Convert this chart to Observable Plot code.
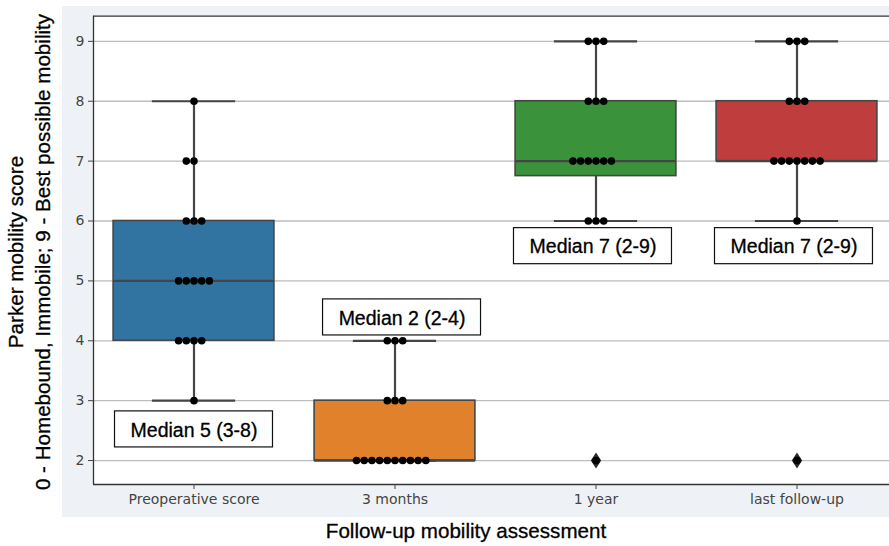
<!DOCTYPE html>
<html>
<head>
<meta charset="utf-8">
<script src="https://cdn.jsdelivr.net/npm/d3@7"></script>
<script src="https://cdn.jsdelivr.net/npm/@observablehq/plot@0.6"></script>
<style>
  html, body { margin: 0; padding: 0; background: white; overflow: hidden; }
  svg { overflow: hidden; }
</style>
</head>
<body>
<div id="chart"></div>
<script>
// ---- data ----
const categories = ["Preoperative score", "3 months", "1 year", "last follow-up"];
const preoperative = [8, 7, 7, 6, 6, 6, 5, 5, 5, 5, 5, 4, 4, 4, 4, 3];
const threeMonths = [4, 4, 4, 3, 3, 3, 2, 2, 2, 2, 2, 2, 2, 2, 2, 2];
const oneYear = [9, 9, 9, 8, 8, 8, 7, 7, 7, 7, 7, 7, 6, 6, 6, 2];
const lastFollowUp = [9, 9, 9, 8, 8, 8, 7, 7, 7, 7, 7, 7, 7, 6, 2];
const boxColors = ["#3274a1", "#e1812c", "#3a923a", "#c03d3e"];
const annotationTexts = ["Median 5 (3-8)", "Median 2 (2-4)", "Median 7 (2-9)", "Median 7 (2-9)"];
const annotationY = [2.52, 4.39, 5.58, 5.58];
const annotationDX = [0, 0.035, -0.015, -0.015];
const yTicks = [2, 3, 4, 5, 6, 7, 8, 9];

const groups = [preoperative, threeMonths, oneYear, lastFollowUp];

// ---- derived ----
const stats = groups.map((vals, i) => {
  const s = vals.slice().sort(d3.ascending);
  const q1 = d3.quantileSorted(s, 0.25), med = d3.quantileSorted(s, 0.5), q3 = d3.quantileSorted(s, 0.75);
  const iqr = q3 - q1;
  const lo = d3.min(s.filter(v => v >= q1 - 1.5 * iqr));
  const hi = d3.max(s.filter(v => v <= q3 + 1.5 * iqr));
  const outliers = s.filter(v => v < lo || v > hi);
  return {i, q1, med, q3, lo, hi, outliers, color: boxColors[i]};
});
const outlierPts = stats.flatMap(s => s.outliers.map(v => ({x: s.i, y: v})));

const SW = 0.0383; // swarm spacing (in band units)
const swarm = groups.flatMap((vals, gi) => {
  const counts = d3.rollup(vals, v => v.length, d => d);
  return [...counts].flatMap(([v, n]) => d3.range(n).map(k => ({x: gi + (k - Math.floor(n / 2)) * SW, y: v})));
});

const annotations = annotationTexts.map((t, i) => ({text: t, x: i + annotationDX[i], y: annotationY[i]}));
const AW = 0.393, AH = 0.301;

const thinDiamond = {
  draw(ctx) {
    ctx.moveTo(0, -8); ctx.lineTo(5.2, 0); ctx.lineTo(0, 8); ctx.lineTo(-5.2, 0); ctx.closePath();
  }
};

const edge = "#454545";
const yDomain = [1.6, 9.42];

const chart = Plot.plot({
  width: 889,
  height: 546,
  marginLeft: 93,
  marginRight: 0,
  marginTop: 15.7,
  marginBottom: 62,
  style: {fontFamily: "DejaVu Sans", background: "transparent"},
  x: {type: "linear", domain: [-0.5, 3.5], range: [93, 897]},
  y: {domain: yDomain},
  marks: [
    Plot.frame({fill: "white", stroke: "none"}),
    Plot.gridY(yTicks, {stroke: "#bdbdbd", strokeOpacity: 1, strokeWidth: 1.3}),
    // whiskers
    Plot.ruleX(stats, {x: "i", y1: "lo", y2: "q1", stroke: edge, strokeWidth: 2.2}),
    Plot.ruleX(stats, {x: "i", y1: "q3", y2: "hi", stroke: edge, strokeWidth: 2.2}),
    // caps
    Plot.ruleY(stats, {y: "lo", x1: d => d.i - 0.207, x2: d => d.i + 0.207, stroke: edge, strokeWidth: 2.2}),
    Plot.ruleY(stats, {y: "hi", x1: d => d.i - 0.207, x2: d => d.i + 0.207, stroke: edge, strokeWidth: 2.2}),
    // boxes
    Plot.rect(stats, {x1: d => d.i - 0.4, x2: d => d.i + 0.4, y1: "q1", y2: "q3", fill: "color", stroke: edge, strokeWidth: 1.6}),
    Plot.ruleY(stats, {y: "med", x1: d => d.i - 0.4, x2: d => d.i + 0.4, stroke: edge, strokeWidth: 2.2}),
    // outliers
    Plot.dot(outlierPts, {x: "x", y: "y", symbol: thinDiamond, r: 5, fill: "#2b2b2b", stroke: "none"}),
    // swarm points
    Plot.dot(swarm, {x: "x", y: "y", r: 3.8, fill: "black", stroke: "none"}),
    // annotation boxes
    Plot.rect(annotations, {x1: d => d.x - AW, x2: d => d.x + AW, y1: d => d.y - AH, y2: d => d.y + AH, fill: "white", stroke: "#111", strokeWidth: 1.2}),
    Plot.text(annotations, {x: "x", y: "y", text: "text", fontSize: 19.5, fontFamily: "Liberation Sans, Arial, sans-serif", fill: "black", stroke: "black", strokeWidth: 0.3, dy: 1}),
    // frame lines (left, top, bottom)
    Plot.ruleX([-0.5], {y1: yDomain[0], y2: yDomain[1], stroke: "#333", strokeWidth: 1.3}),
    Plot.ruleY(yDomain, {x1: -0.5, x2: 3.5, stroke: "#333", strokeWidth: 1.3}),
    // axes
    Plot.axisY({ticks: yTicks, tickSize: 5, tickPadding: 4, fontSize: 14, color: "#444", label: null}),
    Plot.axisX({ticks: [0, 1, 2, 3], tickFormat: i => categories[i], tickSize: 5, tickPadding: 5, fontSize: 14, color: "#444", label: null})
  ]
});

const svg = d3.select(chart);
// background band behind the plot
svg.insert("rect", ":first-child")
  .attr("x", 62).attr("y", 6).attr("width", 827).attr("height", 511)
  .attr("fill", "#eef2f6");

const titleFont = "Liberation Sans, Arial, sans-serif";
function title(sel) {
  return sel.attr("text-anchor", "middle")
    .style("font-family", titleFont).style("font-size", "20.6px")
    .attr("fill", "black").attr("stroke", "black").attr("stroke-width", 0.3);
}
svg.append("text")
  .attr("transform", "translate(23,252) rotate(-90)")
  .call(title)
  .text("Parker mobility score");
svg.append("text")
  .attr("transform", "translate(50,252) rotate(-90)")
  .call(title)
  .text("0 - Homebound, Immobile; 9 - Best possible mobility");
svg.append("text")
  .attr("x", 466).attr("y", 538)
  .call(title)
  .text("Follow-up mobility assessment");

document.getElementById("chart").appendChild(chart);
</script>
</body>
</html>
